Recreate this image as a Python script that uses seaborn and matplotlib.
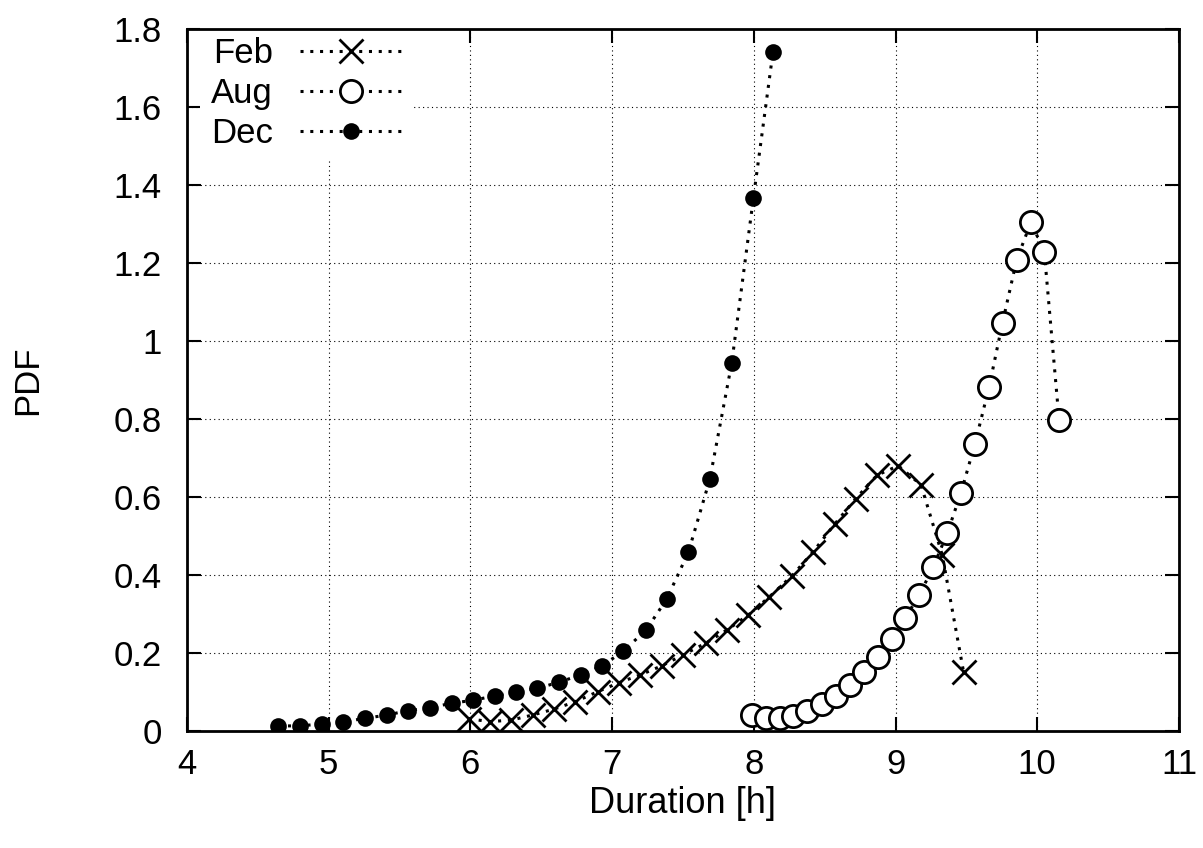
import matplotlib
matplotlib.use("Agg")
import matplotlib.pyplot as plt
import numpy as np
import pandas as pd
import seaborn as sns

# values
feb_x = [5.99, 6.14, 6.29, 6.44, 6.59, 6.74, 6.90, 7.05, 7.20, 7.35, 7.50, 7.66,
         7.81, 7.96, 8.11, 8.27, 8.42, 8.57, 8.72, 8.87, 9.02, 9.18, 9.33, 9.48]
feb_y = [0.031, 0.024, 0.028, 0.041, 0.056, 0.075, 0.101, 0.124, 0.144, 0.167, 0.195, 0.225,
         0.259, 0.297, 0.344, 0.398, 0.460, 0.530, 0.596, 0.656, 0.680, 0.631, 0.451, 0.152]

aug_x = [7.985, 8.083, 8.185, 8.280, 8.378, 8.480, 8.577, 8.680, 8.778, 8.873, 8.972, 9.067,
         9.168, 9.267, 9.366, 9.462, 9.561, 9.661, 9.755, 9.855, 9.956, 10.050, 10.154]
aug_y = [0.041, 0.032, 0.032, 0.038, 0.050, 0.069, 0.090, 0.118, 0.152, 0.190, 0.235, 0.289,
         0.349, 0.421, 0.508, 0.611, 0.737, 0.883, 1.047, 1.208, 1.305, 1.228, 0.798]

dec_x = [4.644, 4.797, 4.951, 5.103, 5.256, 5.409, 5.562, 5.715, 5.868, 6.021, 6.174, 6.320,
         6.470, 6.625, 6.780, 6.930, 7.080, 7.240, 7.385, 7.538, 7.690, 7.844, 7.997, 8.135]
dec_y = [0.013, 0.013, 0.018, 0.024, 0.032, 0.041, 0.052, 0.060, 0.071, 0.079, 0.090, 0.101,
         0.109, 0.125, 0.144, 0.167, 0.205, 0.259, 0.338, 0.458, 0.646, 0.943, 1.366, 1.740]

x_ticks = [4, 5, 6, 7, 8, 9, 10, 11]
y_ticks = [0, 0.2, 0.4, 0.6, 0.8, 1.0, 1.2, 1.4, 1.6, 1.8]
y_tick_labels = ["0", "0.2", "0.4", "0.6", "0.8", "1", "1.2", "1.4", "1.6", "1.8"]

sns.set_style("ticks")
plt.rcParams["font.family"] = ["Liberation Sans", "DejaVu Sans"]
plt.rcParams["text.color"] = "black"
plt.rcParams["axes.labelcolor"] = "black"

FS = 25

fig = plt.figure(figsize=(12.03, 8.48), dpi=100, facecolor="white")
ax = fig.add_axes([0.1554, 0.138, 0.8246, 0.8278])

DOT = (0, (1, 2.2))
series = [
    ("Feb", feb_x, feb_y, dict(marker="x", markersize=17, markeredgewidth=2.0,
                               markeredgecolor="black", markerfacecolor="black")),
    ("Aug", aug_x, aug_y, dict(marker="o", markersize=16, markeredgewidth=2.0,
                               markeredgecolor="black", markerfacecolor="white")),
    ("Dec", dec_x, dec_y, dict(marker="o", markersize=12, markeredgewidth=0,
                               markerfacecolor="black")),
]
for name, xs, ys, mk in series:
    df = pd.DataFrame({"Duration": xs, "PDF": ys})
    sns.lineplot(data=df, x="Duration", y="PDF", ax=ax, sort=False, color="black",
                 linestyle=DOT, linewidth=2.2, label=name, **mk)

ax.set_xlim(4, 11)
ax.set_ylim(0, 1.8)
ax.set_xticks(x_ticks)
ax.set_yticks(y_ticks)
ax.set_yticklabels(y_tick_labels)
ax.grid(True, color="black", linestyle=(0, (1, 3)), linewidth=0.8)
ax.set_axisbelow(True)
for spine in ax.spines.values():
    spine.set_visible(True)
    spine.set_linewidth(2)
    spine.set_color("black")
    spine.set_zorder(6)
ax.tick_params(direction="in", length=10, width=1.5, labelsize=FS,
               top=True, right=True, colors="black")
ax.tick_params(axis="x", pad=12)
ax.tick_params(axis="y", pad=18)
ax.set_xlabel("Duration [h]", fontsize=FS + 1, labelpad=4)
ax.set_ylabel("PDF", fontsize=FS, labelpad=50)

leg = ax.legend(loc="upper left", bbox_to_anchor=(0.01, 1.008), markerfirst=False,
                fontsize=FS, frameon=True, framealpha=1, edgecolor="none",
                facecolor="white", fancybox=False, handlelength=2.9,
                handletextpad=0.8, labelspacing=0.2, borderaxespad=0.1, borderpad=0.3)

fig.savefig("out.png", dpi=100, facecolor="white")
plt.close(fig)
